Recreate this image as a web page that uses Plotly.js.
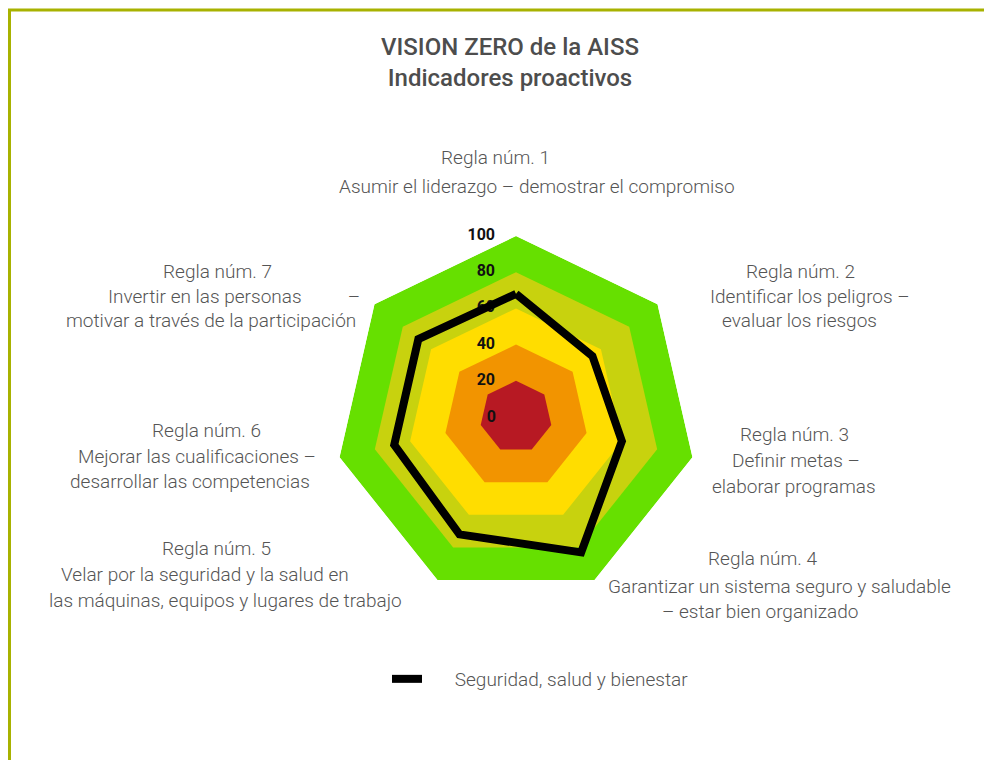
<!DOCTYPE html>
<html>
<head>
<meta charset="utf-8">
<script src="https://cdn.plot.ly/plotly-3.0.1.min.js"></script>
<style>
  html, body { margin: 0; padding: 0; background: #fff; }
  #plot { width: 984px; height: 760px; }
</style>
</head>
<body>
<div id="plot"></div>
<script>
// the seven rules, clockwise from the top
const rules = ['Regla núm. 1', 'Regla núm. 2', 'Regla núm. 3', 'Regla núm. 4',
               'Regla núm. 5', 'Regla núm. 6', 'Regla núm. 7'];

const labelLines = [
    ['Regla núm. 1', 'Asumir el liderazgo – demostrar el compromiso'],
    ['Regla núm. 2', 'Identificar los peligros –', 'evaluar los riesgos'],
    ['Regla núm. 3', 'Definir metas –', 'elaborar programas'],
    ['Regla núm. 4', 'Garantizar un sistema seguro y saludable', '– estar bien organizado'],
    ['Regla núm. 5', 'Velar por la seguridad y la salud en', 'las máquinas, equipos y lugares de trabajo'],
    ['Regla núm. 6', 'Mejorar las cualificaciones –', 'desarrollar las competencias'],
    ['Regla núm. 7', 'Invertir en las personas' + '\u00a0'.repeat(10) + '–', 'motivar a través de la participación']
];

const seriesName = 'Seguridad, salud y bienestar';
const scores = [68, 54, 60, 83, 72, 69, 69];

// background bands, outer to inner
const bandLevels = [100, 80, 60, 40, 20];
const radialTicks = [0, 20, 40, 60, 80, 100];
const radialTickText = ['0', '20', '40', '60', '80', '100'];

// --- styling / placement ---
const bandColors = ['#66e000', '#c8d20e', '#ffdd00', '#f29400', '#b71923'];
const tickFont = { family: 'Roboto', size: 16, color: '#111', weight: 700 };

// centre x / centre y (px) of every label line
const labelPos = [
    [[495, 157], [537, 186]],
    [[800, 271], [810, 296], [799, 321]],
    [[794, 434], [796, 460], [794, 486]],
    [[762, 558], [779, 586], [760, 611]],
    [[216, 548], [205, 574], [225, 600]],
    [[206, 430], [197, 456], [190, 481]],
    [[217, 271], [234, 296], [211, 321]]
];

const W = 984, H = 760;
const cx = 516, cy = 417, R = 181;

function band(level, i) {
    return {
        type: 'scatterpolar',
        r: rules.map(() => level).concat([level]),
        theta: rules.concat([rules[0]]),
        mode: 'lines',
        fill: 'toself',
        fillcolor: bandColors[i],
        line: { color: bandColors[i], width: 0 },
        showlegend: false,
        hoverinfo: 'skip'
    };
}

const data = bandLevels.map(band);

// radial scale numbers on the first spoke, under the score line.
// plotly drops a text point sitting at r=0, so that one is the axis tick (see radialaxis)
const tickIdx = radialTicks.map((v, i) => i).filter(i => radialTicks[i] > 0);
data.push({
    type: 'scatterpolar',
    r: tickIdx.map(i => radialTicks[i]),
    theta: tickIdx.map(() => rules[0]),
    mode: 'markers+text',
    text: tickIdx.map(i => radialTickText[i]),
    textposition: 'middle left',
    textfont: tickFont,
    marker: { size: 32, color: 'rgba(0,0,0,0)' },
    showlegend: false,
    hoverinfo: 'skip'
});

data.push({
    type: 'scatterpolar',
    name: '\u00a0'.repeat(6) + seriesName,
    r: scores.concat([scores[0]]),
    theta: rules.concat([rules[0]]),
    mode: 'lines',
    line: { color: '#000', width: 8 },
    showlegend: true
});

const annotations = [];
labelLines.forEach((lines, i) => {
    lines.forEach((txt, j) => {
        annotations.push({
            xref: 'paper', yref: 'paper',
            x: labelPos[i][j][0] / W,
            y: 1 - labelPos[i][j][1] / H,
            xanchor: 'center', yanchor: 'middle',
            text: txt,
            showarrow: false,
            font: { family: 'Roboto', size: 19, color: '#555', weight: 300 }
        });
    });
});

const layout = {
    width: W,
    height: H,
    margin: { l: 0, r: 0, t: 0, b: 0 },
    paper_bgcolor: '#fff',
    title: {
        text: 'VISION ZERO de la AISS<br>Indicadores proactivos',
        x: 510 / W,
        xanchor: 'center',
        y: 1 - 55 / H,
        yanchor: 'top',
        font: { family: 'Roboto', size: 24, color: '#4d4d4d', weight: 500 }
    },
    polar: {
        domain: {
            x: [(cx - R) / W, (cx + R) / W],
            y: [(H - cy - R) / H, (H - cy + R) / H]
        },
        gridshape: 'linear',
        bgcolor: 'rgba(0,0,0,0)',
        radialaxis: {
            range: [0, 100],
            angle: 90,
            side: 'counterclockwise',
            tickvals: [radialTicks[0]],
            ticktext: [radialTickText[0]],
            tickangle: 90,
            ticks: 'outside',
            ticklen: 14,
            tickcolor: 'rgba(0,0,0,0)',
            tickfont: tickFont,
            showline: false,
            showgrid: false,
            layer: 'above traces'
        },
        angularaxis: {
            type: 'category',
            categoryarray: rules,
            direction: 'clockwise',
            rotation: 90,
            showticklabels: false,
            showgrid: false,
            showline: false,
            ticks: ''
        }
    },
    showlegend: true,
    legend: {
        orientation: 'h',
        x: 387 / W,
        xanchor: 'left',
        y: 1 - 679 / H,
        yanchor: 'middle',
        font: { family: 'Roboto', size: 19, color: '#555', weight: 300 },
        bgcolor: 'rgba(0,0,0,0)'
    },
    annotations: annotations,
    shapes: [
        { type: 'line', xref: 'paper', yref: 'paper', x0: 8 / W, x1: 1, y0: 1 - 10 / H, y1: 1 - 10 / H,
          line: { color: '#a8b200', width: 3 } },
        { type: 'line', xref: 'paper', yref: 'paper', x0: 9.5 / W, x1: 9.5 / W, y0: 1 - 9 / H, y1: 0,
          line: { color: '#a8b200', width: 3 } }
    ],
    hovermode: false
};

Plotly.newPlot('plot', data, layout, { displayModeBar: false, staticPlot: true });
</script>
</body>
</html>
